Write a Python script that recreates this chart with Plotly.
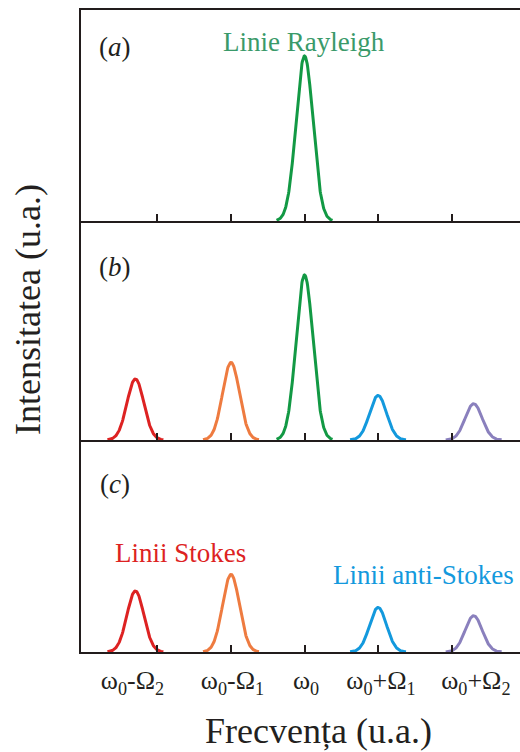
import numpy as np
import plotly.graph_objects as go

# ---- data ----
tick_positions = [-2, -1, 0, 1, 2]
label_positions = [-2.34, -0.98, 0.02, 1.04, 2.33]
tick_labels = ["ω<sub>0</sub>-Ω<sub>2</sub>", "ω<sub>0</sub>-Ω<sub>1</sub>", "ω<sub>0</sub>",
               "ω<sub>0</sub>+Ω<sub>1</sub>", "ω<sub>0</sub>+Ω<sub>2</sub>"]

line_names = ["Stokes 2", "Stokes 1", "Rayleigh", "anti-Stokes 1", "anti-Stokes 2"]
line_centers = [-2.3, -1.0, 0.0, 1.0, 2.3]
line_colors = ["#dd2222", "#ee7b40", "#129944", "#1399dd", "#8a80bd"]

heights_a = [0, 0, 1.0, 0, 0]
heights_b = [0.37, 0.47, 1.0, 0.27, 0.22]
heights_c = [0.37, 0.47, 0, 0.27, 0.22]
line_width_sigma = 0.115

# ---- figure ----
L, T, B, W, H = 81, 10, 100, 520, 752
ph = H - T - B
def ypx(py):
    return (H - B - py) / ph
def xpx(px):
    return (px - L) / (W - L)

xr = [-3.04, 2.93]
scale = 165.0
panels = [
    (heights_a, "y1", "x1", [ypx(221), 1.0], 211),
    (heights_b, "y2", "x2", [ypx(440), ypx(221)], 219),
    (heights_c, "y3", "x3", [0.0, ypx(440)], 212),
]

fig = go.Figure()
for heights, ya, xa, dom, hpx in panels:
    for c, h, col, name in zip(line_centers, heights, line_colors, line_names):
        if h <= 0:
            continue
        xs = np.linspace(c - 0.38, c + 0.38, 151)
        ys = h * np.exp(-0.5 * ((xs - c) / line_width_sigma) ** 2)
        fig.add_trace(go.Scatter(x=xs, y=ys, mode="lines", name=name,
                                 line=dict(color=col, width=3),
                                 xaxis=xa.replace("x1", "x"), yaxis=ya.replace("y1", "y"),
                                 showlegend=False, hoverinfo="skip"))
# invisible trace for label axis
fig.add_trace(go.Scatter(x=[0], y=[-1], mode="markers", marker=dict(opacity=0),
                         xaxis="x4", yaxis="y3", showlegend=False, hoverinfo="skip"))

frame = "#221c1c"
axcommon = dict(range=xr, showgrid=False, zeroline=False, showline=True,
                linecolor=frame, linewidth=2.2, ticks="inside", ticklen=7,
                tickwidth=2.2, tickcolor=frame, tickvals=tick_positions,
                showticklabels=False, fixedrange=True)
ycommon = dict(showgrid=False, zeroline=False, showline=True, linecolor=frame,
               linewidth=2.2, ticks="", showticklabels=False, fixedrange=True)

layout = dict(
    width=W, height=H, margin=dict(l=L, r=0, t=T, b=B),
    plot_bgcolor="white", paper_bgcolor="white", showlegend=False,
    font=dict(family="Liberation Serif, Times New Roman, serif", color="#231f20", size=24),
    xaxis=dict(axcommon, anchor="y", mirror=True),
    xaxis2=dict(axcommon, anchor="y2"),
    xaxis3=dict(axcommon, anchor="y3"),
    xaxis4=dict(range=xr, overlaying="x3", anchor="y3", side="bottom",
                showgrid=False, zeroline=False, showline=False,
                ticks="outside", ticklen=5, tickcolor="rgba(0,0,0,0)",
                tickvals=label_positions, ticktext=tick_labels,
                tickfont=dict(size=26, color="#231f20"), fixedrange=True),
    yaxis=dict(ycommon, domain=panels[0][3], range=[0, 211 / scale], anchor="x"),
    yaxis2=dict(ycommon, domain=panels[1][3], range=[0, 219 / scale], anchor="x2"),
    yaxis3=dict(ycommon, domain=panels[2][3], range=[0, 212 / scale], anchor="x3"),
)
fig.update_layout(**layout)

def ann(text, px, py, size, color="#231f20", angle=0):
    fig.add_annotation(text=text, x=xpx(px), y=ypx(py), xref="paper", yref="paper",
                       showarrow=False, textangle=angle, xanchor="center", yanchor="middle",
                       font=dict(size=size, color=color))

ann("(<i>a</i>)", 115, 47, 27)
ann("(<i>b</i>)", 115, 267, 27)
ann("(<i>c</i>)", 115, 484, 27)
ann("Linie Rayleigh", 304, 42, 27, "#3a9a6a")
ann("Linii Stokes", 180, 553, 27, "#dd2222")
ann("Linii anti-Stokes", 423, 575, 27, "#1399dd")
ann("Frecvența (u.a.)", 318, 731, 36)
ann("Intensitatea (u.a.)", 28, 310, 36, angle=-90)

fig.write_html("out.html", config={"displayModeBar": False},
               post_script="document.body.style.margin='0';document.body.style.overflow='hidden';")
